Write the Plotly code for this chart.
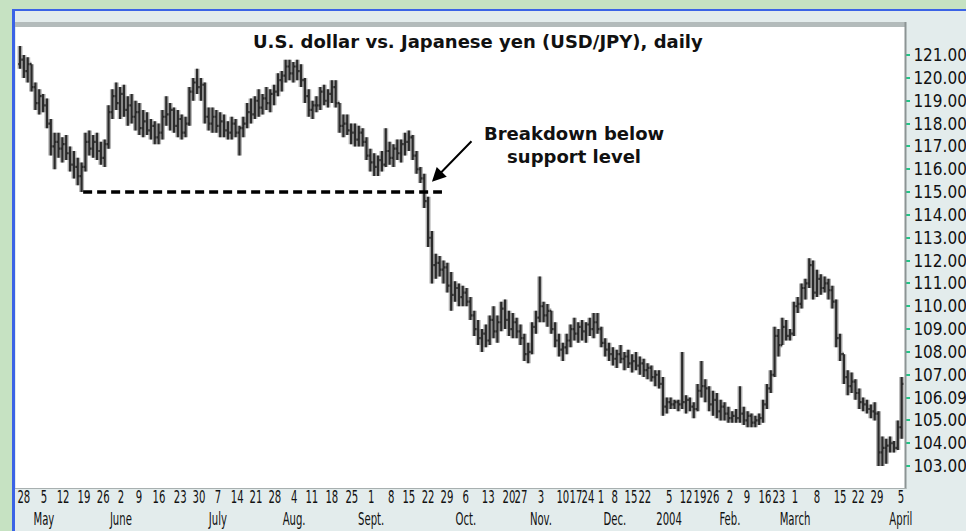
import plotly.graph_objects as go

# ---- data (USD/JPY daily bars) ----
highs = [121.4,121.0,120.9,120.6,119.8,119.5,119.3,119.1,118.2,117.6,
         117.6,117.4,117.5,117.0,116.8,116.5,116.3,117.6,117.7,117.5,
         117.6,117.2,117.3,118.8,119.5,119.8,119.6,119.7,119.2,119.3,
         119.0,118.9,118.6,118.5,118.2,118.1,118.0,118.6,119.2,118.9,
         118.7,118.6,118.4,118.3,119.6,120.0,120.4,120.0,119.8,118.7,
         118.7,118.6,118.5,118.4,118.1,118.3,118.2,117.9,118.3,118.9,
         119.1,119.2,119.5,119.3,119.6,119.5,119.7,120.2,120.3,120.8,
         120.8,120.7,120.8,120.6,120.0,119.5,119.0,119.2,119.6,119.7,
         119.5,119.9,119.9,118.9,118.4,118.4,118.0,118.0,117.9,117.8,
         117.4,116.9,116.7,116.6,116.8,117.8,117.2,117.1,117.3,117.3,
         117.6,117.7,117.5,116.8,116.1,115.8,114.8,113.3,112.3,112.2,
         112.0,111.9,111.5,111.1,111.0,110.9,110.8,110.4,109.8,109.4,
         109.0,109.2,109.6,110.0,109.6,110.2,110.3,109.8,109.7,109.5,
         109.2,108.8,108.4,109.3,109.8,111.3,110.2,110.1,109.8,109.3,
         108.8,108.4,108.8,109.2,109.5,109.3,109.4,109.3,109.5,109.7,
         109.7,109.1,108.6,108.4,108.2,108.1,108.3,108.0,108.1,107.9,
         108.0,107.8,107.7,107.5,107.4,107.2,107.2,106.9,106.0,106.0,
         105.9,105.9,108.0,106.1,106.0,105.8,106.6,107.6,106.8,106.5,
         106.3,106.2,105.9,105.8,105.6,105.4,105.5,106.5,105.6,105.4,
         105.3,105.2,105.3,105.9,106.6,107.2,109.1,109.0,109.5,109.4,
         109.0,110.2,110.4,111.0,111.2,112.1,112.0,111.6,111.4,111.3,
         111.2,110.9,110.3,108.8,107.9,107.2,107.1,106.8,106.4,106.0,
         105.9,105.7,105.8,105.4,104.3,104.2,104.3,104.1,105.0,106.9]

lows = [120.4,120.0,119.8,119.4,118.6,118.4,118.5,117.8,116.6,116.0,
        116.5,116.3,116.4,115.9,115.6,115.3,115.0,115.9,116.6,116.5,
        116.4,116.2,116.1,116.9,118.2,118.6,118.2,118.3,117.9,118.0,
        117.7,117.5,117.4,117.5,117.3,117.1,117.1,117.3,117.9,117.7,
        117.6,117.4,117.3,117.4,117.9,119.0,119.3,119.0,118.0,117.7,
        117.6,117.6,117.4,117.4,117.3,117.3,117.4,116.6,117.4,117.8,
        118.0,118.2,118.3,118.4,118.6,118.5,118.8,119.2,119.4,119.8,
        119.9,119.8,119.9,119.6,118.9,118.3,118.2,118.5,118.6,118.8,
        118.7,118.9,118.7,117.6,117.4,117.5,117.1,117.0,117.0,117.0,
        116.4,115.9,115.7,115.7,115.9,116.1,116.2,116.1,116.4,116.3,
        116.6,116.8,116.4,115.8,115.4,114.3,112.6,111.0,111.2,111.3,
        111.0,110.6,109.8,110.2,110.0,110.0,110.0,109.4,108.7,108.3,
        108.0,108.2,108.3,108.6,108.4,108.9,109.0,108.7,108.6,108.6,
        108.3,107.6,107.5,107.9,108.8,109.3,109.3,109.1,108.8,108.2,
        107.8,107.6,107.9,108.2,108.5,108.4,108.5,108.4,108.7,108.6,
        108.8,108.2,107.8,107.6,107.4,107.3,107.5,107.2,107.3,107.1,
        107.2,107.0,106.9,106.8,106.7,106.5,106.4,105.2,105.3,105.5,
        105.5,105.4,105.5,105.3,105.4,105.1,105.4,106.0,105.8,105.4,
        105.2,105.1,105.0,105.0,104.9,104.9,104.9,104.9,104.8,104.7,
        104.7,104.7,104.8,104.9,105.5,106.2,106.9,107.8,108.3,108.5,
        108.5,108.7,109.7,109.9,110.3,110.8,110.3,110.4,110.5,110.6,
        110.3,109.9,108.2,107.6,106.6,106.1,106.2,105.9,105.5,105.4,
        105.3,105.1,105.0,103.0,103.0,103.1,103.6,103.6,103.7,104.2]

closes = [120.8,120.3,120.6,119.6,118.9,119.2,118.8,118.0,117.0,117.2,
          116.9,117.1,116.7,116.2,116.1,115.7,116.1,117.2,116.9,117.2,
          116.8,116.5,117.1,118.5,119.2,118.9,119.3,118.6,118.8,118.3,
          118.5,117.8,118.1,117.7,117.9,117.4,117.6,118.3,118.4,118.6,
          117.9,118.2,117.6,118.0,119.4,119.8,119.6,119.7,118.3,118.0,
          118.3,117.9,118.1,117.7,117.6,118.0,117.6,117.8,118.0,118.5,
          118.4,119.0,118.7,119.1,118.9,119.3,119.4,119.9,120.1,120.5,
          120.2,120.5,120.3,119.9,119.2,118.6,118.8,118.8,119.4,119.0,
          119.3,119.6,118.9,117.9,118.0,117.7,117.6,117.3,117.6,117.2,
          116.6,116.3,116.1,116.4,116.2,116.8,116.5,116.9,116.7,117.1,
          117.2,117.4,116.6,116.0,115.6,114.6,113.0,111.8,111.9,111.6,
          111.7,110.9,110.5,110.8,110.4,110.6,110.2,109.6,109.0,108.6,
          108.8,108.5,109.4,108.9,109.3,109.9,109.4,109.0,109.3,108.9,
          108.6,107.9,108.0,109.1,109.5,110.0,109.6,109.8,109.0,108.5,
          108.1,108.2,108.5,109.0,108.8,109.1,108.9,109.2,109.0,109.3,
          109.0,108.4,108.1,107.9,107.7,107.9,107.7,107.8,107.5,107.6,
          107.4,107.5,107.2,107.3,106.9,107.0,106.6,105.6,105.8,105.7,
          105.8,105.7,105.8,105.9,105.6,105.5,106.3,106.5,106.4,105.7,
          105.9,105.4,105.6,105.3,105.1,105.2,105.1,105.3,105.0,105.2,
          104.9,105.0,105.1,105.7,106.4,107.0,108.7,108.3,109.1,108.7,
          108.8,110.0,110.1,110.8,111.0,111.8,110.6,111.2,110.8,111.0,
          110.7,110.2,108.6,107.9,106.9,106.5,106.7,106.2,105.8,105.7,
          105.5,105.4,105.3,103.6,103.8,103.9,104.0,103.8,104.7,106.6]

opens = [120.6,120.8,120.3,120.6,119.6,118.9,119.2,118.8,118.0,117.0,
         117.2,116.9,117.1,116.7,116.2,116.1,115.7,116.1,117.2,116.9,
         117.2,116.8,116.5,117.1,118.5,119.2,118.9,119.3,118.6,118.8,
         118.3,118.5,117.8,118.1,117.7,117.9,117.4,117.6,118.3,118.4,
         118.6,117.9,118.2,117.6,118.0,119.4,119.8,119.6,119.7,118.3,
         118.0,118.3,117.9,118.1,117.7,117.6,118.0,117.6,117.8,118.0,
         118.5,118.4,119.0,118.7,119.1,118.9,119.3,119.4,119.9,120.1,
         120.5,120.2,120.5,120.3,119.9,119.2,118.6,118.8,118.8,119.4,
         119.0,119.3,119.6,118.9,117.9,118.0,117.7,117.6,117.3,117.6,
         117.2,116.6,116.3,116.1,116.4,116.2,116.8,116.5,116.9,116.7,
         117.1,117.2,117.4,116.6,116.0,115.6,114.6,113.0,111.8,111.9,
         111.6,111.7,110.9,110.5,110.8,110.4,110.6,110.2,109.6,109.0,
         108.6,108.8,108.5,109.4,108.9,109.3,109.9,109.4,109.0,109.3,
         108.9,108.6,107.9,108.0,109.1,109.5,110.0,109.6,109.8,109.0,
         108.5,108.1,108.2,108.5,109.0,108.8,109.1,108.9,109.2,109.0,
         109.3,109.0,108.4,108.1,107.9,107.7,107.9,107.7,107.8,107.5,
         107.6,107.4,107.5,107.2,107.3,106.9,107.0,106.6,105.6,105.8,
         105.7,105.8,105.7,105.8,105.9,105.6,105.5,106.3,106.5,106.4,
         105.7,105.9,105.4,105.6,105.3,105.1,105.2,105.1,105.3,105.0,
         105.2,104.9,105.0,105.1,105.7,106.4,107.0,108.7,108.3,109.1,
         108.7,108.8,110.0,110.1,110.8,111.0,111.8,110.6,111.2,110.8,
         111.0,110.7,110.2,108.6,107.9,106.9,106.5,106.7,106.2,105.8,
         105.7,105.5,105.4,105.3,103.6,103.8,103.9,104.0,103.8,104.7]

# weekly (Monday) tick labels, positioned at the bar where each week starts
week_tick_bar = [1.0, 6.2, 11.2, 16.6, 21.6, 26.2, 30.9, 36.1, 41.6, 46.5,
                 51.4, 56.4, 61.3, 66.2, 71.2, 75.8, 81.0, 86.2, 91.2, 96.4,
                 101.0, 106.0, 110.9, 115.8, 121.6, 127.0, 130.1, 135.3, 141.0, 144.4,
                 147.5, 150.9, 154.5, 158.7, 162.3, 168.6, 173.0, 176.6, 180.0, 184.4,
                 188.8, 193.5, 197.1, 201.3, 207.0, 213.0, 217.7, 222.6, 228.8]
week_days = ["28", "5", "12", "19", "26", "2", "9", "16", "23", "30",
             "7", "14", "21", "28", "4", "11", "18", "25", "1", "8",
             "15", "22", "29", "6", "13", "20", "27", "3", "10", "17",
             "24", "1", "8", "15", "22", "5", "12", "19", "26", "2",
             "9", "16", "23", "1", "8", "15", "22", "29", "5"]
month_labels = ["", "May", "", "", "", "June", "", "", "", "",
                "July", "", "", "", "Aug.", "", "", "", "Sept.", "",
                "", "", "", "Oct.", "", "", "", "Nov.", "", "",
                "", "", "Dec.", "", "", "2004", "", "", "", "Feb.",
                "", "", "", "March", "", "", "", "", "April"]

price_ticks = [103, 104, 105, 106, 107, 108, 109, 110, 111, 112,
               113, 114, 115, 116, 117, 118, 119, 120, 121]
price_labels = ["103.00", "104.00", "105.00", "106.09", "107.00", "108.00",
                "109.00", "110.00", "111.00", "112.00", "113.00", "114.00",
                "115.00", "116.00", "117.00", "118.00", "119.00", "120.00", "121.00"]

support_level = 115.0
support_start_bar = 16.4
support_end_bar = 109.6
breakdown_bar = 107.0
breakdown_price = 115.45

title_text = "U.S. dollar vs. Japanese yen (USD/JPY), daily"
note_text = "Breakdown below<br>support level"

# ---- figure ----
bars = list(range(len(closes)))
ticktext = [d if m == "" else d + "<br>" + m for d, m in zip(week_days, month_labels)]

fig = go.Figure()
# soft halo to mimic the blurred print
fig.add_trace(go.Ohlc(x=bars, open=opens, high=highs, low=lows, close=closes,
                      increasing=dict(line=dict(color="rgba(90,90,90,0.45)", width=5)),
                      decreasing=dict(line=dict(color="rgba(90,90,90,0.45)", width=5)),
                      tickwidth=0.45, hoverinfo="skip"))
fig.add_trace(go.Ohlc(x=bars, open=opens, high=highs, low=lows, close=closes,
                      increasing=dict(line=dict(color="#2a2a2a", width=2.2)),
                      decreasing=dict(line=dict(color="#2a2a2a", width=2.2)),
                      tickwidth=0.45))

W, H = 966, 531
L, R, T, B = 16, 61, 27, 43
pw, ph = W - L - R, H - T - B


def px_x(px):
    return (px - L) / pw


def px_y(py):
    return (H - B - py) / ph


shapes = [
    # frame panel
    dict(type="rect", xref="paper", yref="paper", x0=px_x(12), x1=px_x(W + 2),
         y0=px_y(H + 2), y1=px_y(9), fillcolor="#e3ecec", line=dict(width=0), layer="below"),
    # white plotting area
    dict(type="rect", xref="paper", yref="paper", x0=0, x1=1, y0=0, y1=1,
         fillcolor="#ffffff", line=dict(width=0), layer="below"),
    # grey strip above the plot
    dict(type="rect", xref="paper", yref="paper", x0=px_x(15), x1=px_x(906),
         y0=px_y(27), y1=px_y(22), fillcolor="#b3bbbb", line=dict(width=0), layer="below"),
    # blue left / top border
    dict(type="rect", xref="paper", yref="paper", x0=px_x(12), x1=px_x(15),
         y0=px_y(H + 2), y1=px_y(9), fillcolor="#3b63e6", line=dict(width=0), layer="below"),
    dict(type="rect", xref="paper", yref="paper", x0=px_x(12), x1=px_x(W + 2),
         y0=px_y(11), y1=px_y(9), fillcolor="#3b63e6", line=dict(width=0), layer="below"),
    # right border of plot
    dict(type="line", xref="paper", yref="paper", x0=px_x(905.5), x1=px_x(905.5),
         y0=px_y(489), y1=px_y(22), line=dict(color="#8c9494", width=2)),
    # bottom border of plot
    dict(type="line", xref="paper", yref="paper", x0=px_x(15), x1=px_x(906),
         y0=px_y(488.5), y1=px_y(488.5), line=dict(color="#a8b0b0", width=1)),
    # support line
    dict(type="line", xref="x", yref="y", x0=support_start_bar, x1=support_end_bar,
         y0=support_level, y1=support_level,
         line=dict(color="#000000", width=3.5, dash="9px,5px")),
]

annotations = [
    dict(text=title_text, xref="paper", yref="paper", x=px_x(477.5), y=px_y(41),
         xanchor="center", yanchor="middle", showarrow=False,
         font=dict(family="DejaVu Sans", size=18, color="#111111", weight="bold")),
    dict(text=note_text, xref="paper", yref="paper", x=px_x(573.5), y=px_y(145),
         xanchor="center", yanchor="middle", showarrow=False,
         font=dict(family="DejaVu Sans", size=18, color="#111111", weight="bold")),
    dict(text="", x=breakdown_bar, y=breakdown_price, xref="x", yref="y",
         showarrow=True, ax=41, ay=-42, arrowhead=2, arrowsize=1.4,
         arrowwidth=2, arrowcolor="#000000"),
]

fig.update_layout(
    width=W, height=H,
    margin=dict(l=L, r=R, t=T, b=B, pad=0, autoexpand=False),
    paper_bgcolor="#c6e2c2",
    plot_bgcolor="#ffffff",
    showlegend=False,
    shapes=shapes,
    annotations=annotations,
    xaxis=dict(range=[-1.04, 229.87], tickmode="array", tickvals=week_tick_bar,
               ticktext=ticktext, tickangle=0, showgrid=False, zeroline=False,
               showline=False, ticks="", automargin=False,
               rangeslider=dict(visible=False),
               tickfont=dict(family="DejaVu Sans Condensed", size=17, color="#111111")),
    yaxis=dict(range=[102.04, 122.23], side="right", tickmode="array",
               tickvals=price_ticks, ticktext=price_labels, showgrid=False,
               zeroline=False, showline=False, ticks="outside", ticklen=4,
               tickwidth=2, tickcolor="#22c486", automargin=False,
               tickfont=dict(family="DejaVu Sans Condensed", size=17, color="#111111")),
)

# page tweaks: no body margin; narrow (condensed) date labels like the print
post_js = """
document.documentElement.style.margin='0px';
document.body.style.margin='0px';
document.body.style.padding='0px';
document.documentElement.style.overflow='hidden';
var gd = document.getElementById('{plot_id}');
var s = 0.66;
gd.querySelectorAll('g.xtick text').forEach(function(t){
  var cx = parseFloat(t.getAttribute('x')) || 0;
  var old = t.getAttribute('transform') || '';
  t.setAttribute('transform', old + ' translate(' + cx + ',-3) scale(' + s + ',1) translate(' + (-cx) + ',0)');
});
"""

fig.write_html("out.html", post_script=post_js, config={"displayModeBar": False})
